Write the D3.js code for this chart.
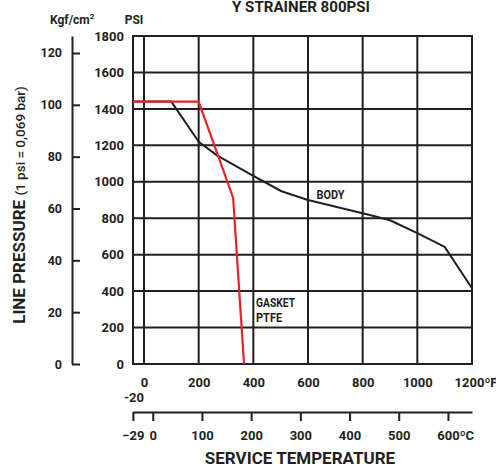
<!DOCTYPE html>
<html>
<head>
<meta charset="utf-8">
<script src="https://cdn.jsdelivr.net/npm/d3@7"></script>
<style>
  body { margin: 0; background: #fff; }
  text { fill: #231f20; }
</style>
</head>
<body>
<div id="chart"></div>
<script>
// values
var fTicks = [0, 200, 400, 600, 800, 1000, 1200];
var cTicks = [-29, 0, 100, 200, 300, 400, 500, 600];
var psiTicks = [0, 200, 400, 600, 800, 1000, 1200, 1400, 1600, 1800];
var kgfTicks = [0, 20, 40, 60, 80, 100, 120];

var bodyF   = [-20, 100, 200, 267, 390, 503, 600, 826, 900, 1000, 1100, 1200];
var bodyPsi = [1440, 1440, 1220, 1145, 1040, 948, 900, 818, 789, 718, 643, 416];

var gasketF   = [-20, 200, 326, 366];
var gasketPsi = [1440, 1440, 913, 0];

var width = 496, height = 466;
var plot = {left: 133, right: 472, top: 36, bottom: 364},
    kgf_x = 72,
    c_axis_y = 412;

var ink = '#231f20', red = '#e8202a';
var num_font = 'Roboto, "DejaVu Sans", sans-serif';

var svg = d3.select('#chart').append('svg')
    .attr('width', width)
    .attr('height', height);

// -20F sits at the left border, 0F a little further in
var x = d3.scaleLinear()
    .domain([-20, 0, 1200])
    .range([plot.left, plot.left + 11, plot.right]);

var xC = d3.scaleLinear()
    .domain(x.domain().map(function(f) { return (f - 32) * 5 / 9; }))
    .range(x.range());

var yP = d3.scaleLinear()
    .domain([0, 1800])
    .range([plot.bottom, plot.top]);

var yK = d3.scaleLinear()
    .domain([0, 1800 / 14.223])
    .range([plot.bottom, plot.top]);

var fmt = d3.format('d');

// grid
var grid = svg.append('g');
[-20].concat(fTicks).forEach(function(f) {
  grid.append('line')
    .attr('x1', x(f)).attr('x2', x(f))
    .attr('y1', plot.top - 1).attr('y2', plot.bottom + 1)
    .attr('stroke', ink).attr('stroke-width', 2);
});
psiTicks.forEach(function(p) {
  grid.append('line')
    .attr('x1', plot.left - 1).attr('x2', plot.right + 1)
    .attr('y1', yP(p)).attr('y2', yP(p))
    .attr('stroke', ink).attr('stroke-width', 2);
});

function style_ticks(g, size) {
  g.selectAll('text')
    .attr('font-family', num_font)
    .attr('font-weight', 700)
    .attr('font-size', size)
    .attr('fill', ink);
  g.selectAll('line').attr('stroke', ink).attr('stroke-width', 2);
  g.select('.domain').attr('stroke', ink).attr('stroke-width', 2);
}

// psi axis
var gPsi = svg.append('g')
    .attr('transform', 'translate(' + plot.left + ',0)')
    .call(d3.axisLeft(yP).tickValues(psiTicks).tickFormat(fmt).tickSize(0).tickPadding(9));
gPsi.select('.domain').remove();
style_ticks(gPsi, 13);

// kgf/cm2 axis
var gKgf = svg.append('g')
    .attr('transform', 'translate(' + kgf_x + ',0)')
    .call(d3.axisLeft(yK).tickValues(kgfTicks).tickFormat(fmt)
      .tickSizeInner(-8).tickSizeOuter(0).tickPadding(10));
style_ticks(gKgf, 12.5);

// fahrenheit axis
var gF = svg.append('g')
    .attr('transform', 'translate(0,' + plot.bottom + ')')
    .call(d3.axisBottom(x).tickValues(fTicks).tickFormat(fmt).tickSize(0).tickPadding(14));
gF.select('.domain').remove();
style_ticks(gF, 13);

svg.append('text')
  .attr('x', x(-20) + 1)
  .attr('y', 401.5)
  .attr('text-anchor', 'middle')
  .attr('font-family', num_font)
  .attr('font-weight', 700)
  .attr('font-size', 13)
  .text('-20');

// celsius axis
var gC = svg.append('g')
    .attr('transform', 'translate(0,' + c_axis_y + ')')
    .call(d3.axisBottom(xC).tickValues(cTicks).tickFormat(fmt)
      .tickSizeInner(9).tickSizeOuter(0).tickPadding(10));
style_ticks(gC, 13);

function add_unit(g, value, unit, shift) {
  g.selectAll('.tick text').filter(function(d) { return d === value; })
    .each(function() {
      var t = d3.select(this),
          w = this.getComputedTextLength();
      t.attr('text-anchor', 'start').attr('x', -w / 2 + shift);
      t.append('tspan').text(unit);
    });
}
add_unit(gF, 1200, '\u00baF', -3);
add_unit(gC, 600, '\u00baC', 0);

// curves
var line = d3.line()
    .x(function(d) { return x(d[0]); })
    .y(function(d) { return yP(d[1]); });

svg.append('path')
  .attr('d', line(d3.zip(bodyF, bodyPsi)))
  .attr('fill', 'none')
  .attr('stroke', ink)
  .attr('stroke-width', 2)
  .attr('stroke-linejoin', 'round');

svg.append('path')
  .attr('d', line(d3.zip(gasketF, gasketPsi)))
  .attr('fill', 'none')
  .attr('stroke', red)
  .attr('stroke-width', 2.2);

// curve labels, squeezed to the condensed look of the original
function add_label(text, f, p, len) {
  svg.append('text')
    .attr('x', x(f))
    .attr('y', yP(p))
    .attr('font-family', num_font)
    .attr('font-weight', 700)
    .attr('font-size', 13.5)
    .attr('textLength', len)
    .attr('lengthAdjust', 'spacingAndGlyphs')
    .text(text);
}
add_label('BODY', 631, 908, 28);
add_label('GASKET', 410, 314, 39);
add_label('PTFE', 410, 229, 26);

// headers
svg.append('text')
  .attr('x', 301).attr('y', 12)
  .attr('text-anchor', 'middle')
  .attr('font-family', num_font)
  .attr('font-weight', 700)
  .attr('font-size', 15)
  .attr('textLength', 138)
  .attr('lengthAdjust', 'spacingAndGlyphs')
  .text('Y STRAINER 800PSI');

var unitK = svg.append('text')
  .attr('x', 50).attr('y', 24)
  .attr('font-family', num_font)
  .attr('font-weight', 700)
  .attr('font-size', 12)
  .text('Kgf/cm');
unitK.append('tspan')
  .attr('dy', -5)
  .attr('font-size', 8)
  .text('2');

svg.append('text')
  .attr('x', 134).attr('y', 24)
  .attr('text-anchor', 'middle')
  .attr('font-family', num_font)
  .attr('font-weight', 700)
  .attr('font-size', 12)
  .text('PSI');

svg.append('text')
  .attr('x', 300).attr('y', 464)
  .attr('text-anchor', 'middle')
  .attr('font-family', num_font)
  .attr('font-weight', 700)
  .attr('font-size', 17)
  .text('SERVICE TEMPERATURE');

var ytitle = svg.append('text')
  .attr('transform', 'translate(25,205) rotate(-90)')
  .attr('text-anchor', 'middle')
  .attr('font-family', num_font)
  .attr('font-weight', 700)
  .attr('font-size', 17)
  .text('LINE PRESSURE ');
ytitle.append('tspan')
  .attr('font-size', 13.5)
  .attr('font-weight', 500)
  .text('(1 psi = 0,069 bar)');
</script>
</body>
</html>
